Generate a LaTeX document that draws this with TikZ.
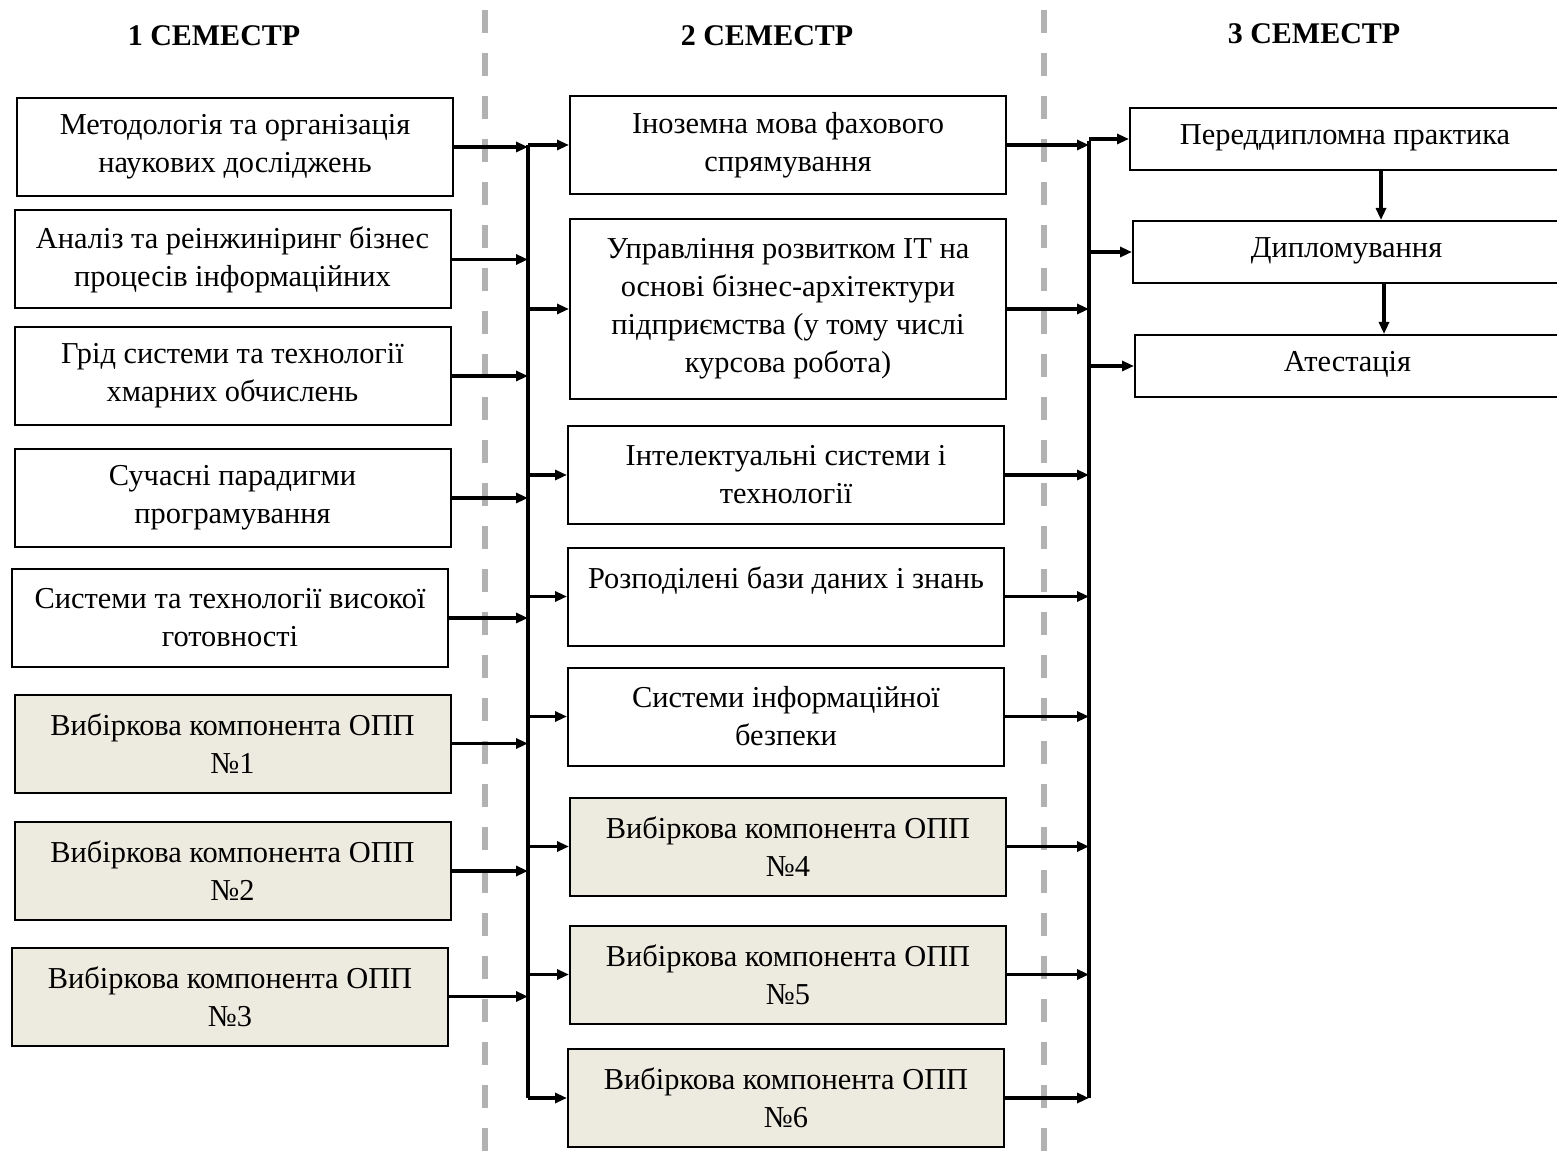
\documentclass[tikz,border=0pt]{standalone}
\usepackage{fontspec}
\setmainfont{LiberationSerif}[Extension=.ttf, UprightFont=*-Regular, BoldFont=*-Bold, ItalicFont=*-Italic, BoldItalicFont=*-BoldItalic]
\usetikzlibrary{arrows.meta}
\definecolor{selfill}{RGB}{237,235,224}
\definecolor{sepgray}{RGB}{178,178,178}
\begin{document}
\begin{tikzpicture}[x=0.5pt,y=-0.5pt,
 box/.style={draw, line width=1pt, align=center, inner sep=0pt, minimum width=218pt, minimum height=49pt, font=\fontsize{15.2}{19}\selectfont},
 sel/.style={box, fill=selfill},
 fin/.style={box, minimum height=31pt},
 arr/.style={line width=1.7pt, -{Triangle[length=6pt,width=5pt]}},
 busline/.style={line width=1.7pt},
 sepline/.style={draw=sepgray, line width=2.8pt, dash pattern=on 11.5pt off 10pt},
 head/.style={font=\bfseries\fontsize{15}{17}\selectfont}]
\clip (0,0) rectangle (1557,1165);
% separators
\coordinate (s1t) at (485,10); \coordinate (s1b) at (485,1165);
\coordinate (s2t) at (1044,10); \coordinate (s2b) at (1044,1165);
\draw[sepline] (s1t) -- (s1b);
\draw[sepline] (s2t) -- (s2b);
% headers
\node[head] (h1) at (214,36) {1 СЕМЕСТР};
\node[head] (h2) at (767,36) {2 СЕМЕСТР};
\node[head] (h3) at (1314,34) {3 СЕМЕСТР};
% column 1
\node[box] (a1) at (235,147) {Методологія та організація\\наукових досліджень};
\node[box] (a2) at (232.5,259.5) {Аналіз та реінжиніринг бізнес\\процесів інформаційних};
\node[box] (a3) at (232.5,376) {Грід системи та технології\\хмарних обчислень};
\node[box] (a4) at (232.5,498) {Сучасні парадигми\\програмування};
\node[box] (a5) at (230,618) {Системи та технології високої\\готовності};
\node[sel] (a6) at (232.5,743.5) {Вибіркова компонента ОПП\\№1};
\node[sel] (a7) at (232.5,871) {Вибіркова компонента ОПП\\№2};
\node[sel] (a8) at (230,996.5) {Вибіркова компонента ОПП\\№3};
% column 2
\node[box] (b1) at (788,145) {Іноземна мова фахового\\спрямування};
\node[box, minimum height=90pt] (b2) at (788,309) {Управління розвитком IT на\\основі бізнес-архітектури\\підприємства (у тому числі\\курсова робота)};
\node[box] (b3) at (786,475) {Інтелектуальні системи і\\технології};
\node[box] (b4) at (786,596.5) {Розподілені бази даних і знань\\\mbox{}};
\node[box] (b5) at (786,716.5) {Системи інформаційної\\безпеки};
\node[sel] (b6) at (788,846.5) {Вибіркова компонента ОПП\\№4};
\node[sel] (b7) at (788,974.5) {Вибіркова компонента ОПП\\№5};
\node[sel] (b8) at (786,1098) {Вибіркова компонента ОПП\\№6};
% column 3
\node[fin, minimum width=215pt] (c1) at (1345,139) {\raisebox{4.5pt}{Переддипломна практика}};
\node[fin, minimum width=213.5pt] (c2) at (1346.5,252) {\raisebox{4.5pt}{Дипломування}};
\node[fin, minimum width=212.5pt] (c3) at (1347.5,366) {\raisebox{4.5pt}{Атестація}};
% bus 1
\coordinate (u1t) at (528,145);
\coordinate (u1b) at (528,1098);
\draw[busline] (u1t) -- (u1b);
\foreach \n in {a1,a2,a3,a4,a5,a6,a7,a8}
  \draw[arr] (\n.east) -- (\n.east -| u1t);
\foreach \n in {b1,b2,b3,b4,b5,b6,b7,b8}
  \draw[arr] (\n.west -| u1t) -- (\n.west);
% bus 2
\coordinate (u2t) at (1089,141);
\coordinate (u2b) at (1089,1098);
\draw[busline] (u2t) -- (u2b);
\foreach \n in {b1,b2,b3,b4,b5,b6,b7,b8}
  \draw[arr] (\n.east) -- (\n.east -| u2t);
\foreach \n in {c1,c2,c3}
  \draw[arr] (\n.west -| u2t) -- (\n.west);
% vertical arrows
\draw[arr] ([xshift=18pt]c1.south) -- ([xshift=18pt]c1.south |- c2.north);
\draw[arr] ([xshift=18.75pt]c2.south) -- ([xshift=18.75pt]c2.south |- c3.north);
\end{tikzpicture}
\end{document}
